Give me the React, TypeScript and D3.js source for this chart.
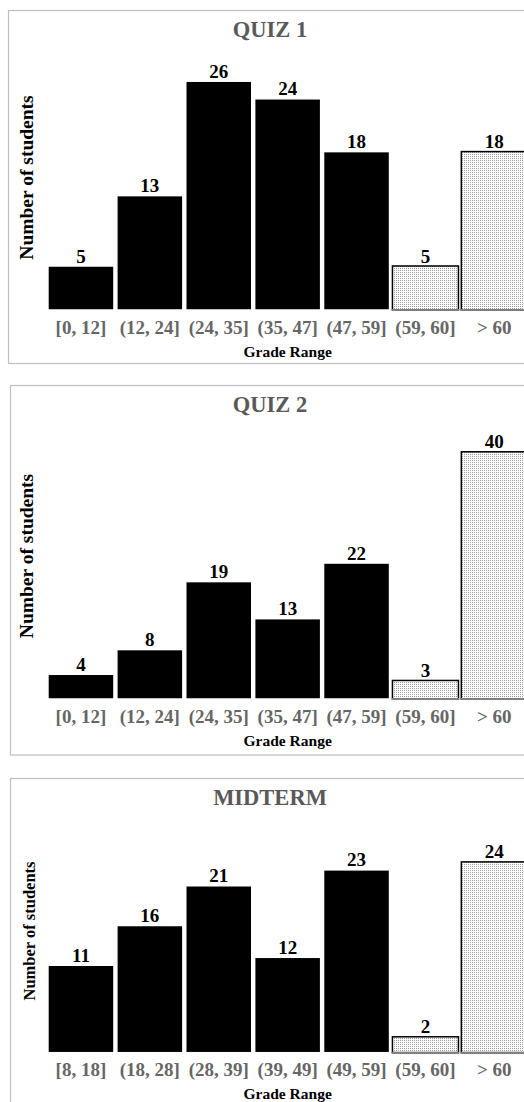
import React from 'react';
import * as d3 from 'd3';

// grade bins and counts
const quizCategories = ['[0, 12]', '(12, 24]', '(24, 35]', '(35, 47]', '(47, 59]', '(59, 60]', '> 60'];
const midtermCategories = ['[8, 18]', '(18, 28]', '(28, 39]', '(39, 49]', '(49, 59]', '(59, 60]', '> 60'];
const quiz1Values = [5, 13, 26, 24, 18, 5, 18];
const quiz2Values = [4, 8, 19, 13, 22, 3, 40];
const midtermValues = [11, 16, 21, 12, 23, 2, 24];
// bins drawn with the dotted fill
const patternedBins = ['(59, 60]', '> 60'];

const FONT = '"Liberation Serif", "Times New Roman", serif';

interface PanelProps {
	title: string;
	categories: string[];
	values: number[];
	top: number; // panel border top
	left: number; // panel border left
	bottom: number; // panel border bottom
	baseline: number;
	yMax: number;
	yTop: number;
	yLabelX: number;
	yLabelY: number;
	yLabelSize: number;
}

const Panel: React.FC<PanelProps> = ({
	title,
	categories,
	values,
	top,
	left,
	bottom,
	baseline,
	yMax,
	yTop,
	yLabelX,
	yLabelY,
	yLabelSize,
}) => {
	const x = d3
		.scaleBand<string>()
		.domain(categories)
		.range([46.5, 46.5 + 7 * 68.9])
		.paddingInner(0.042)
		.paddingOuter(0.021);
	const y = d3.scaleLinear().domain([0, yMax]).range([baseline, yTop]);
	const plotMid = (x.range()[0] + x.range()[1]) / 2;

	return (
		<g>
			<rect
				x={left}
				y={top}
				width={560}
				height={bottom - top}
				fill='white'
				stroke='#bfbfbf'
				strokeWidth={1.2}
			/>
			<text
				x={270}
				y={top + 26}
				textAnchor='middle'
				fontFamily={FONT}
				fontWeight='bold'
				fontSize={22.5}
				fill='#595959'>
				{title}
			</text>
			<text
				transform={`translate(${yLabelX}, ${yLabelY}) rotate(-90)`}
				textAnchor='middle'
				fontFamily={FONT}
				fontWeight='bold'
				fontSize={yLabelSize}
				fill='black'>
				Number of students
			</text>
			{categories.map((c, i) => {
				const v = values[i];
				const bx = x(c) as number;
				const bw = x.bandwidth();
				const patterned = patternedBins.includes(c);
				return (
					<g key={c}>
						{patterned ? (
							<>
								<rect
									x={bx}
									y={y(v)}
									width={bw}
									height={baseline - y(v)}
									fill='url(#dots)'
									stroke='black'
									strokeWidth={1.5}
								/>
								<line
									x1={bx - 0.75}
									x2={bx + bw + 0.75}
									y1={baseline}
									y2={baseline}
									stroke='#7f7f7f'
									strokeWidth={2}
								/>
							</>
						) : (
							<rect
								x={bx}
								y={y(v)}
								width={bw}
								height={baseline - y(v)}
								fill='black'
								stroke='white'
								strokeWidth={1.5}
							/>
						)}
						<text
							x={bx + bw / 2}
							y={y(v) - 3.5}
							textAnchor='middle'
							fontFamily={FONT}
							fontWeight='bold'
							fontSize={19}
							fill='black'>
							{v}
						</text>
						<text
							x={bx + bw / 2}
							y={baseline + 23.5}
							textAnchor='middle'
							fontFamily={FONT}
							fontWeight='bold'
							fontSize={19}
							fill='#666666'>
							{c}
						</text>
					</g>
				);
			})}
			<text
				x={plotMid}
				y={baseline + 46.5}
				textAnchor='middle'
				fontFamily={FONT}
				fontWeight='bold'
				fontSize={15.5}
				fill='black'>
				Grade Range
			</text>
		</g>
	);
};

export default function App() {
	return (
		<svg
			width={524}
			height={1102}
			style={{ position: 'absolute', left: 0, top: 0, display: 'block' }}>
			<defs>
				<pattern id='dots' width={2} height={2} patternUnits='userSpaceOnUse'>
					<rect width={2} height={2} fill='white' />
					<rect width={1} height={1} fill='#9a9a9a' />
				</pattern>
			</defs>
			<rect width={524} height={1102} fill='white' />
			<Panel
				title='QUIZ 1'
				categories={quizCategories}
				values={quiz1Values}
				top={10.5}
				left={8.5}
				bottom={363.5}
				baseline={310}
				yMax={30}
				yTop={310 - 30 * 8.8}
				yLabelX={32.5}
				yLabelY={177.5}
				yLabelSize={19.5}
			/>
			<Panel
				title='QUIZ 2'
				categories={quizCategories}
				values={quiz2Values}
				top={385.5}
				left={10.5}
				bottom={755}
				baseline={699}
				yMax={45}
				yTop={699 - 45 * 6.18}
				yLabelX={32.5}
				yLabelY={556}
				yLabelSize={19.5}
			/>
			<Panel
				title='MIDTERM'
				categories={midtermCategories}
				values={midtermValues}
				top={778.5}
				left={10.5}
				bottom={1140}
				baseline={1052.7}
				yMax={30}
				yTop={1052.7 - 30 * 7.95}
				yLabelX={35}
				yLabelY={931}
				yLabelSize={16.5}
			/>
		</svg>
	);
}
